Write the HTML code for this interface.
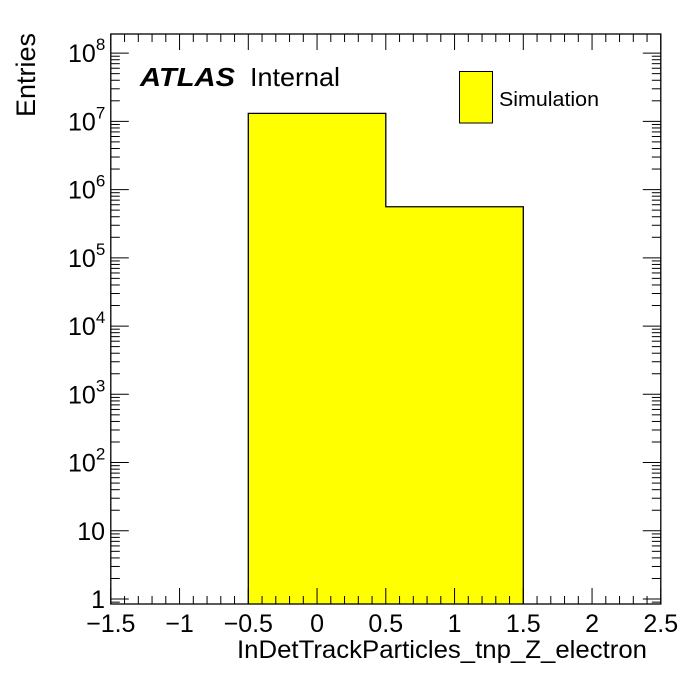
<!DOCTYPE html>
<html><head><meta charset="utf-8"><style>
body{margin:0;background:#fff;width:696px;height:672px;overflow:hidden}
svg text{font-family:"Liberation Sans",sans-serif}
</style></head><body>
<svg id="chart" width="696" height="672" xmlns="http://www.w3.org/2000/svg">
<g id="plot"></g>
<text x="237" y="658" font-size="25" textLength="410" lengthAdjust="spacingAndGlyphs">InDetTrackParticles_tnp_Z_electron</text>
<text transform="translate(35,33) rotate(-90)" font-size="27" text-anchor="end">Entries</text>
<text x="140" y="86" font-size="26" font-weight="bold" font-style="italic" textLength="95" lengthAdjust="spacingAndGlyphs">ATLAS</text>
<text x="250" y="86" font-size="26" textLength="90" lengthAdjust="spacingAndGlyphs">Internal</text>
<rect x="459.5" y="71.5" width="33" height="51.5" fill="#ffff00" stroke="#000" stroke-width="1"/>
<text x="499" y="106" font-size="20" textLength="100" lengthAdjust="spacingAndGlyphs">Simulation</text>
</svg>
<script>
const binEdges = [-0.5, 0.5, 1.5];
const binValues = [1.31e7, 5.6e5];
const xTickLabels = [-1.5, -1, -0.5, 0, 0.5, 1, 1.5, 2, 2.5];
const yDecades = [0,1,2,3,4,5,6,7,8];
const yDecadeLabels = ["1","10","10^2","10^3","10^4","10^5","10^6","10^7","10^8"];

const L=110.8,R=660.8,T=34,B=604;
const xMin=-1.5,xMax=2.5,lyMin=-0.073,lyMax=8.28;
const X=v=>L+(v-xMin)/(xMax-xMin)*(R-L);
const Y=v=>B-(Math.log10(v)-lyMin)/(lyMax-lyMin)*(B-T);
const NS="http://www.w3.org/2000/svg";
const g=document.getElementById('plot');
function mk(tag,attrs,parent){const e=document.createElementNS(NS,tag);for(const k in attrs)e.setAttribute(k,attrs[k]);(parent||g).appendChild(e);return e;}

let d=`M${X(binEdges[0])},${B}`;
for(let i=0;i<binValues.length;i++){d+=` L${X(binEdges[i])},${Y(binValues[i])} L${X(binEdges[i+1])},${Y(binValues[i])}`;}
d+=` L${X(binEdges[binEdges.length-1])},${B}`;
const h=mk('path',{d:d,fill:'#ffff00',stroke:'#000','stroke-width':1.3});



const fr=mk('rect',{x:L,y:T,width:R-L,height:B-T,fill:'none',stroke:'#000','stroke-width':1.3});



const xt=mk('g',{stroke:'#000','stroke-width':1});


for(let i=0;i<=40;i++){const v=xMin+i*0.1;const x=X(v);const len=(i%5==0)?16:8;
 mk('line',{x1:x,y1:B,x2:x,y2:B-len},xt);mk('line',{x1:x,y1:T,x2:x,y2:T+len},xt);}
xTickLabels.forEach(v=>{const t=mk('text',{x:X(v),y:632,'font-size':25,'text-anchor':'middle'});
 t.textContent=(v<0?'\u2212'+Math.abs(v):String(v));
 
 });

const yt=mk('g',{stroke:'#000','stroke-width':1});


for(let dcd=-1;dcd<=8;dcd++){for(let m=1;m<=9;m++){const v=m*Math.pow(10,dcd);const lv=Math.log10(v);
 if(lv<lyMin||lv>lyMax)continue;const y=Y(v);const len=(m==1)?18:9;
 mk('line',{x1:L,y1:y,x2:L+len,y2:y},yt);mk('line',{x1:R,y1:y,x2:R-len,y2:y},yt);}}
yDecades.forEach((p,i)=>{const y=Y(Math.pow(10,p));const lab=yDecadeLabels[i];
 const t=mk('text',{x:105,y:y+9,'font-size':25,'text-anchor':'end'});
 
 
 if(lab.includes('^')){const [b,e]=lab.split('^');
  const s1=document.createElementNS(NS,'tspan');s1.textContent=b;t.appendChild(s1);
  const s2=document.createElementNS(NS,'tspan');s2.textContent=e;s2.setAttribute('font-size',17);s2.setAttribute('dy',-12);t.appendChild(s2);
  t.setAttribute('text-anchor','start');t.setAttribute('x',68);
 } else t.textContent=lab;});
</script>
</body></html>
